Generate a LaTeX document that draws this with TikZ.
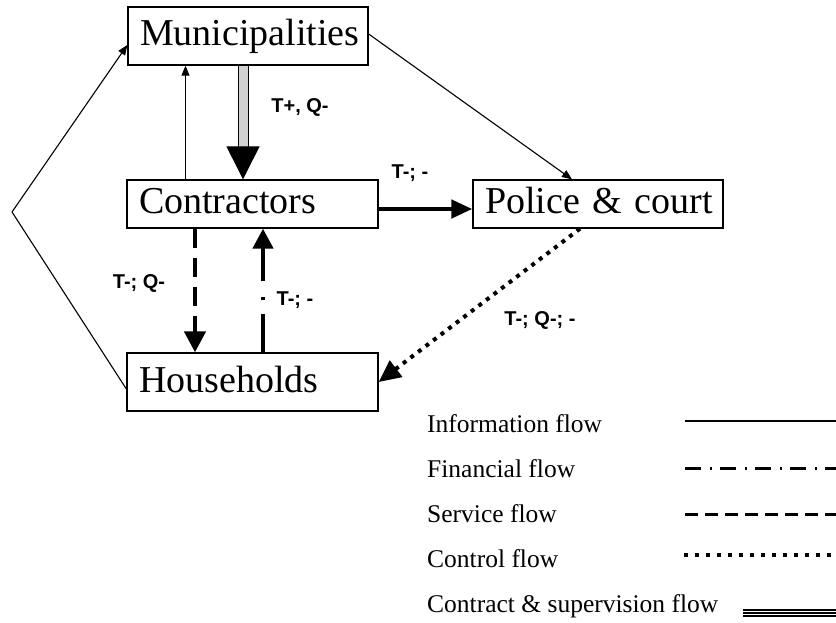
\documentclass[tikz,border=0pt]{standalone}
\usepackage{fontspec}
\setmainfont{Liberation Serif}
\newfontfamily\flowsans{Liberation Sans}
\usetikzlibrary{arrows.meta}
\begin{document}
\begin{tikzpicture}[x=1pt,y=-1pt,
  box/.style={draw, line width=1.3pt, align=left, inner xsep=12pt, inner ysep=0pt,
    font=\fontsize{38}{40}\selectfont, text height=27pt, text depth=7pt},
  tag/.style={font=\flowsans\bfseries\fontsize{20}{20}\selectfont, inner sep=0pt},
  legtext/.style={font=\fontsize{25.5}{27}\selectfont, anchor=base west, inner sep=0pt},
  info/.style={line width=1.1pt, -{Triangle[width=8pt,length=10pt]}},
  money/.style={line width=4.5pt, dash pattern=on 38pt off 14pt on 3pt off 16pt,
    -{Triangle[width=20pt,length=20pt]}},
  service/.style={line width=4.5pt, dash pattern=on 19pt off 10pt,
    -{Triangle[width=21pt,length=21pt]}},
  control/.style={line width=4pt, dash pattern=on 4pt off 5.5pt,
    -{Triangle[width=20pt,length=22pt]}},
  solidflow/.style={line width=4.5pt, -{Triangle[width=18pt,length=21pt]}},
  contract/.style={double=gray!35, double distance=9pt, line width=1pt,
    -{Triangle[width=33pt,length=33pt]}}
]
\useasboundingbox (0,0) rectangle (836,623);

% actors
\node[box, text width=216pt, minimum height=58pt] (mun) at (248,36) {\mbox{Municipalities}};
\node[box, text width=227pt, minimum height=48pt] (con) at (252.5,204) {\mbox{Contractors}};
\node[box, text width=227pt, minimum height=58pt] (hh)  at (252.5,382) {\mbox{Households}};
\node[box, text width=226pt, minimum height=48pt] (pol) at (598,204) {\mbox{Police \& court}};

% information flows
\draw[info] ([xshift=-67pt]con.north) -- ([xshift=-67pt]con.north |- mun.south);
\draw[info] ([yshift=2pt]mun.east) -- ([xshift=-26pt]pol.north);
\coordinate (apex) at (12,212);
\draw[info] (apex) -- ([yshift=-9pt]mun.west);
\draw[line width=1.1pt] (apex) -- ([yshift=-7pt]hh.west);

% contract & supervision flow
\draw[contract] ([xshift=-5pt]mun.south) -- ([xshift=-9.5pt]con.north);
\node[tag] (tpq) at (300,107) {T+, Q-};

% contractors to police
\draw[solidflow] ([yshift=-5pt]con.east) -- ([yshift=-5pt]pol.west);
\node[tag] (tc) at (410,173) {T-; -};

% service and financial flows between contractors and households
\draw[service] ([xshift=-57.5pt]con.south) -- ([xshift=-57.5pt]hh.north);
\node[tag] (tq) at (139,283) {T-; Q-};
\draw[money] ([xshift=10.5pt]hh.north) -- ([xshift=10.5pt]con.south);
\node[tag] (tm) at (295,300) {T-; -};

% control flow from police to households
\draw[control] ([xshift=-18pt]pol.south) -- (hh.east);
\node[tag] (tqc) at (540,320) {T-; Q-; -};

% legend
\node[legtext] (l1) at (427,432) {Information flow};
\node[legtext] (l2) at (427,477) {Financial flow};
\node[legtext] (l3) at (427,522) {Service flow};
\node[legtext] (l4) at (427,567) {Control flow};
\node[legtext] (l5) at (427,612) {Contract \& supervision flow};

\draw[line width=1.3pt] (685,421) -- (836,421);
\draw[line width=3pt, dash pattern=on 16pt off 9pt on 2pt off 8pt] (685,468) -- (836,468);
\draw[line width=3pt, dash pattern=on 13pt off 7pt] (685,514) -- (836,514);
\draw[line width=4pt, dash pattern=on 3.5pt off 7.5pt] (684,555) -- (836,555);
\draw[line width=8pt] (743,613) -- (836,613);
\draw[white, line width=4.6pt] (743,613) -- (836,613);
\draw[line width=1.5pt] (743,613) -- (836,613);
\end{tikzpicture}
\end{document}
